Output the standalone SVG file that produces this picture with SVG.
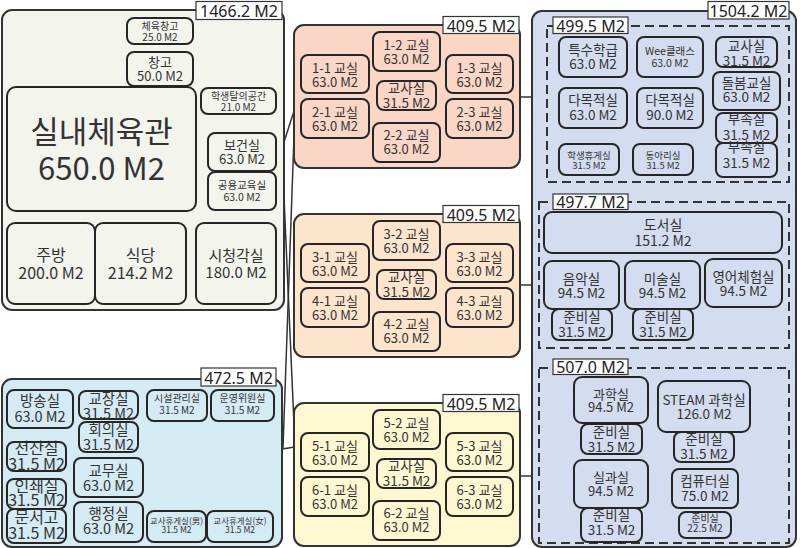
<svg xmlns="http://www.w3.org/2000/svg" width="800" height="548" viewBox="0 0 800 548">
<style>
text{font-family:"Noto Sans CJK KR","Noto Sans",sans-serif;fill:#333;text-anchor:middle}
.grp{stroke:#333;stroke-width:2}
.n{stroke:#262626;stroke-width:2}
.lb{fill:#fff;stroke:#333;stroke-width:1.2}
.lt{font-family:"Noto Sans","DejaVu Sans",sans-serif;font-size:16px;fill:#222}
.d{fill:none;stroke:#333;stroke-width:2;stroke-dasharray:9 5}
.gA{fill:#f3f5ed}.gB{fill:#d5ebf4}.gR{fill:#fad6c6}.gO{fill:#fde4cd}.gY{fill:#fdf7d2}.gU{fill:#d4dcf0}
.c{fill:none;stroke:#333;stroke-width:1.5}
</style>
<g id="connectors">
<path class="c" d="M284 142L295 108"/>
<path class="c" d="M284 197L295 447"/>
<path class="c" d="M283 448L295 108"/>
<path class="c" d="M282 449L295 447"/>
<path class="c" d="M520 97H532"/>
<path class="c" d="M520 285H532"/>
<path class="c" d="M520 476H532"/>
</g>
<g id="grp-1466">
<rect class="grp gA" x="2" y="10" width="282" height="300" rx="10"/>
<rect class="lb" x="196" y="1.5" width="86" height="18"/>
<text class="lt" x="239" y="17.2">1466.2 M2</text>
<g id="n-gym-store"><rect class="n gA" x="127" y="18" width="66" height="26" rx="7"/><text font-size="10"><tspan x="160" y="29.5">체육창고</tspan><tspan x="160" y="40.5">25.0 M2</tspan></text></g>
<g id="n-store"><rect class="n gA" x="127" y="52" width="66" height="34" rx="7"/><text font-size="13"><tspan x="160" y="67">창고</tspan><tspan x="160" y="81">50.0 M2</tspan></text></g>
<g id="n-gym"><rect class="n gA" x="7" y="87" width="189" height="124" rx="9"/><text font-size="31"><tspan x="101.5" y="143">실내체육관</tspan><tspan x="101.5" y="180">650.0 M2</tspan></text></g>
<g id="n-dress"><rect class="n gA" x="201" y="88" width="75" height="26" rx="7"/><text font-size="10"><tspan x="238.5" y="99.5">학생탈의공간</tspan><tspan x="238.5" y="110.5">21.0 M2</tspan></text></g>
<g id="n-health"><rect class="n gA" x="208" y="133" width="68" height="38" rx="7"/><text font-size="13"><tspan x="242" y="150">보건실</tspan><tspan x="242" y="164">63.0 M2</tspan></text></g>
<g id="n-common"><rect class="n gA" x="208" y="172" width="68" height="38" rx="7"/><text font-size="10.5"><tspan x="242" y="189">공용교육실</tspan><tspan x="242" y="200.5">63.0 M2</tspan></text></g>
<g id="n-kitchen"><rect class="n gA" x="7" y="223" width="88" height="81" rx="8"/><text font-size="16"><tspan x="51" y="261">주방</tspan><tspan x="51" y="279">200.0 M2</tspan></text></g>
<g id="n-cafeteria"><rect class="n gA" x="95" y="223" width="91" height="81" rx="8"/><text font-size="16"><tspan x="140.5" y="261">식당</tspan><tspan x="140.5" y="279">214.2 M2</tspan></text></g>
<g id="n-av"><rect class="n gA" x="196" y="223" width="80" height="81" rx="8"/><text font-size="15"><tspan x="236" y="261">시청각실</tspan><tspan x="236" y="278">180.0 M2</tspan></text></g>
</g>
<g id="grp-472">
<rect class="grp gB" x="2" y="379" width="280" height="168" rx="10"/>
<rect class="lb" x="201" y="368" width="75" height="18"/>
<text class="lt" x="238.5" y="383.5">472.5 M2</text>
<g id="n-broadcast"><rect class="n gB" x="7" y="390" width="66" height="38" rx="7"/><text font-size="14.5"><tspan x="40" y="405.5">방송실</tspan><tspan x="40" y="421.5">63.0 M2</tspan></text></g>
<g id="n-principal"><rect class="n gB" x="79" y="391" width="59" height="28" rx="7"/><text font-size="14.5"><tspan x="108.5" y="403.5">교장실</tspan><tspan x="108.5" y="418.5">31.5 M2</tspan></text></g>
<g id="n-meeting"><rect class="n gB" x="79" y="422" width="59" height="30" rx="7"/><text font-size="14.5"><tspan x="108.5" y="435">회의실</tspan><tspan x="108.5" y="450">31.5 M2</tspan></text></g>
<g id="n-computer-admin"><rect class="n gB" x="7" y="442" width="59" height="29" rx="7"/><text font-size="16"><tspan x="36.5" y="454">전산실</tspan><tspan x="36.5" y="469.5">31.5 M2</tspan></text></g>
<g id="n-print"><rect class="n gB" x="7" y="479" width="59" height="30" rx="7"/><text font-size="16"><tspan x="36.5" y="491.5">인쇄실</tspan><tspan x="36.5" y="506">31.5 M2</tspan></text></g>
<g id="n-archive"><rect class="n gB" x="7" y="509" width="59" height="34" rx="7"/><text font-size="16"><tspan x="36.5" y="523">문서고</tspan><tspan x="36.5" y="538.5">31.5 M2</tspan></text></g>
<g id="n-staff"><rect class="n gB" x="74" y="458" width="69" height="39" rx="7"/><text font-size="14.5"><tspan x="108.5" y="476">교무실</tspan><tspan x="108.5" y="490.5">63.0 M2</tspan></text></g>
<g id="n-admin"><rect class="n gB" x="74" y="502" width="69" height="40" rx="7"/><text font-size="14.5"><tspan x="108.5" y="519">행정실</tspan><tspan x="108.5" y="533.5">63.0 M2</tspan></text></g>
<g id="n-facility"><rect class="n gB" x="147" y="390" width="60" height="31" rx="7"/><text font-size="10"><tspan x="177" y="402">시설관리실</tspan><tspan x="177" y="413.5">31.5 M2</tspan></text></g>
<g id="n-committee"><rect class="n gB" x="211" y="390" width="63" height="31" rx="7"/><text font-size="10"><tspan x="242.5" y="402">운영위원실</tspan><tspan x="242.5" y="413.5">31.5 M2</tspan></text></g>
<g id="n-lounge-m"><rect class="n gB" x="147" y="511" width="59" height="31" rx="7"/><text font-size="8.5"><tspan x="176.5" y="523.5">교사휴게실(男)</tspan><tspan x="176.5" y="533">31.5 M2</tspan></text></g>
<g id="n-lounge-f"><rect class="n gB" x="207" y="511" width="66" height="31" rx="7"/><text font-size="8.5"><tspan x="240" y="523.5">교사휴게실(女)</tspan><tspan x="240" y="533">31.5 M2</tspan></text></g>
</g>
<g id="grp-409-a">
<rect class="grp gR" x="294" y="25" width="226" height="143" rx="10"/>
<rect class="lb" x="443" y="16.5" width="76" height="17"/>
<text class="lt" x="481" y="31.5">409.5 M2</text>
<g id="n-1-1"><rect class="n gR" x="301" y="55" width="68" height="38" rx="7"/><text font-size="13"><tspan x="335" y="73">1-1 교실</tspan><tspan x="335" y="87">63.0 M2</tspan></text></g>
<g id="n-2-1"><rect class="n gR" x="301" y="99" width="68" height="39" rx="7"/><text font-size="13"><tspan x="335" y="117">2-1 교실</tspan><tspan x="335" y="131">63.0 M2</tspan></text></g>
<g id="n-1-2"><rect class="n gR" x="373" y="32" width="67" height="39" rx="7"/><text font-size="13"><tspan x="406.5" y="50">1-2 교실</tspan><tspan x="406.5" y="64">63.0 M2</tspan></text></g>
<g id="n-t12"><rect class="n gR" x="377" y="81" width="59" height="29" rx="7"/><text font-size="13.5"><tspan x="406.5" y="93">교사실</tspan><tspan x="406.5" y="108">31.5 M2</tspan></text></g>
<g id="n-2-2"><rect class="n gR" x="373" y="123" width="67" height="39" rx="7"/><text font-size="13"><tspan x="406.5" y="140">2-2 교실</tspan><tspan x="406.5" y="154">63.0 M2</tspan></text></g>
<g id="n-1-3"><rect class="n gR" x="446" y="55" width="67" height="38" rx="7"/><text font-size="13"><tspan x="479.5" y="73">1-3 교실</tspan><tspan x="479.5" y="87">63.0 M2</tspan></text></g>
<g id="n-2-3"><rect class="n gR" x="446" y="99" width="67" height="39" rx="7"/><text font-size="13"><tspan x="479.5" y="117">2-3 교실</tspan><tspan x="479.5" y="131">63.0 M2</tspan></text></g>
</g>
<g id="grp-409-b">
<rect class="grp gO" x="294" y="214" width="226" height="143" rx="10"/>
<rect class="lb" x="443" y="205.5" width="76" height="17"/>
<text class="lt" x="481" y="220.5">409.5 M2</text>
<g id="n-3-1"><rect class="n gO" x="301" y="244" width="68" height="38" rx="7"/><text font-size="13"><tspan x="335" y="262">3-1 교실</tspan><tspan x="335" y="276">63.0 M2</tspan></text></g>
<g id="n-4-1"><rect class="n gO" x="301" y="288" width="68" height="39" rx="7"/><text font-size="13"><tspan x="335" y="306">4-1 교실</tspan><tspan x="335" y="320">63.0 M2</tspan></text></g>
<g id="n-3-2"><rect class="n gO" x="373" y="221" width="67" height="39" rx="7"/><text font-size="13"><tspan x="406.5" y="239">3-2 교실</tspan><tspan x="406.5" y="253">63.0 M2</tspan></text></g>
<g id="n-t34"><rect class="n gO" x="377" y="270" width="59" height="29" rx="7"/><text font-size="13.5"><tspan x="406.5" y="282">교사실</tspan><tspan x="406.5" y="297">31.5 M2</tspan></text></g>
<g id="n-4-2"><rect class="n gO" x="373" y="312" width="67" height="39" rx="7"/><text font-size="13"><tspan x="406.5" y="329">4-2 교실</tspan><tspan x="406.5" y="343">63.0 M2</tspan></text></g>
<g id="n-3-3"><rect class="n gO" x="446" y="244" width="67" height="38" rx="7"/><text font-size="13"><tspan x="479.5" y="262">3-3 교실</tspan><tspan x="479.5" y="276">63.0 M2</tspan></text></g>
<g id="n-4-3"><rect class="n gO" x="446" y="288" width="67" height="39" rx="7"/><text font-size="13"><tspan x="479.5" y="306">4-3 교실</tspan><tspan x="479.5" y="320">63.0 M2</tspan></text></g>
</g>
<g id="grp-409-c">
<rect class="grp gY" x="294" y="403" width="226" height="143" rx="10"/>
<rect class="lb" x="443" y="394.5" width="76" height="17"/>
<text class="lt" x="481" y="409.5">409.5 M2</text>
<g id="n-5-1"><rect class="n gY" x="301" y="433" width="68" height="38" rx="7"/><text font-size="13"><tspan x="335" y="451">5-1 교실</tspan><tspan x="335" y="465">63.0 M2</tspan></text></g>
<g id="n-6-1"><rect class="n gY" x="301" y="477" width="68" height="39" rx="7"/><text font-size="13"><tspan x="335" y="495">6-1 교실</tspan><tspan x="335" y="509">63.0 M2</tspan></text></g>
<g id="n-5-2"><rect class="n gY" x="373" y="410" width="67" height="39" rx="7"/><text font-size="13"><tspan x="406.5" y="428">5-2 교실</tspan><tspan x="406.5" y="442">63.0 M2</tspan></text></g>
<g id="n-t56"><rect class="n gY" x="377" y="459" width="59" height="29" rx="7"/><text font-size="13.5"><tspan x="406.5" y="471">교사실</tspan><tspan x="406.5" y="486">31.5 M2</tspan></text></g>
<g id="n-6-2"><rect class="n gY" x="373" y="501" width="67" height="39" rx="7"/><text font-size="13"><tspan x="406.5" y="518">6-2 교실</tspan><tspan x="406.5" y="532">63.0 M2</tspan></text></g>
<g id="n-5-3"><rect class="n gY" x="446" y="433" width="67" height="38" rx="7"/><text font-size="13"><tspan x="479.5" y="451">5-3 교실</tspan><tspan x="479.5" y="465">63.0 M2</tspan></text></g>
<g id="n-6-3"><rect class="n gY" x="446" y="477" width="67" height="39" rx="7"/><text font-size="13"><tspan x="479.5" y="495">6-3 교실</tspan><tspan x="479.5" y="509">63.0 M2</tspan></text></g>
</g>
<g id="grp-1504">
<rect class="grp gU" x="532" y="11" width="264" height="536" rx="10"/>
<rect class="lb" x="708" y="1.5" width="81" height="17.5"/>
<text class="lt" x="748.5" y="17">1504.2 M2</text>
<g id="sub-499">
<rect class="d" x="547" y="26" width="242" height="156"/>
<rect class="lb" x="553" y="17" width="75" height="16.5"/>
<text class="lt" x="590.5" y="31.5">499.5 M2</text>
<g id="n-special"><rect class="n gU" x="559" y="37" width="68" height="40" rx="7"/><text font-size="13.5"><tspan x="593" y="55">특수학급</tspan><tspan x="593" y="69">63.0 M2</tspan></text></g>
<g id="n-wee"><rect class="n gU" x="637" y="37" width="66" height="40" rx="7"/><text font-size="10.5"><tspan x="670" y="55">Wee클래스</tspan><tspan x="670" y="66.5">63.0 M2</tspan></text></g>
<g id="n-t-r"><rect class="n gU" x="716" y="37" width="61" height="30" rx="7"/><text font-size="13.5"><tspan x="746.5" y="51">교사실</tspan><tspan x="746.5" y="65.5">31.5 M2</tspan></text></g>
<g id="n-care"><rect class="n gU" x="713" y="72" width="67" height="38" rx="7"/><text font-size="13.5"><tspan x="746.5" y="87.5">돌봄교실</tspan><tspan x="746.5" y="102">63.0 M2</tspan></text></g>
<g id="n-multi1"><rect class="n gU" x="559" y="88" width="68" height="40" rx="7"/><text font-size="13.5"><tspan x="593" y="105">다목적실</tspan><tspan x="593" y="120">63.0 M2</tspan></text></g>
<g id="n-multi2"><rect class="n gU" x="637" y="88" width="66" height="40" rx="7"/><text font-size="13.5"><tspan x="670" y="105">다목적실</tspan><tspan x="670" y="120">90.0 M2</tspan></text></g>
<g id="n-annex1"><rect class="n gU" x="716" y="113" width="61" height="30" rx="7"/><text font-size="13.5"><tspan x="746.5" y="124">부속실</tspan><tspan x="746.5" y="139.5">31.5 M2</tspan></text></g>
<g id="n-annex2"><rect class="n gU" x="716" y="143" width="61" height="34" rx="7"/><text font-size="13.5"><tspan x="746.5" y="151.5">부속실</tspan><tspan x="746.5" y="168">31.5 M2</tspan></text></g>
<g id="n-student-lounge"><rect class="n gU" x="559" y="144" width="60" height="31" rx="7"/><text font-size="9.5"><tspan x="589" y="158.5">학생휴게실</tspan><tspan x="589" y="169">31.5 M2</tspan></text></g>
<g id="n-club"><rect class="n gU" x="633" y="144" width="60" height="31" rx="7"/><text font-size="9.5"><tspan x="663" y="158.5">동아리실</tspan><tspan x="663" y="169">31.5 M2</tspan></text></g>
</g>
<g id="sub-497">
<rect class="d" x="539" y="202" width="250" height="146"/>
<rect class="lb" x="553" y="194" width="75" height="15.5"/>
<text class="lt" x="590.5" y="208">497.7 M2</text>
<g id="n-library"><rect class="n gU" x="544" y="212" width="238" height="41" rx="8"/><text font-size="14"><tspan x="663" y="230">도서실</tspan><tspan x="663" y="246">151.2 M2</tspan></text></g>
<g id="n-music"><rect class="n gU" x="544" y="261" width="75" height="48" rx="8"/><text font-size="13.5"><tspan x="581.5" y="283.5">음악실</tspan><tspan x="581.5" y="298">94.5 M2</tspan></text></g>
<g id="n-art"><rect class="n gU" x="625" y="261" width="75" height="48" rx="8"/><text font-size="13.5"><tspan x="662.5" y="283.5">미술실</tspan><tspan x="662.5" y="298">94.5 M2</tspan></text></g>
<g id="n-english"><rect class="n gU" x="705" y="259" width="77" height="48" rx="8"/><text font-size="13.5"><tspan x="743.5" y="281.5">영어체험실</tspan><tspan x="743.5" y="296">94.5 M2</tspan></text></g>
<g id="n-prep-music"><rect class="n gU" x="552" y="309" width="60" height="31" rx="7"/><text font-size="13.5"><tspan x="582" y="322">준비실</tspan><tspan x="582" y="337">31.5 M2</tspan></text></g>
<g id="n-prep-art"><rect class="n gU" x="633" y="309" width="60" height="31" rx="7"/><text font-size="13.5"><tspan x="663" y="322">준비실</tspan><tspan x="663" y="337">31.5 M2</tspan></text></g>
</g>
<g id="sub-507">
<rect class="d" x="539" y="368" width="250" height="175"/>
<rect class="lb" x="553" y="359" width="75" height="15.5"/>
<text class="lt" x="590.5" y="373">507.0 M2</text>
<g id="n-science"><rect class="n gU" x="574" y="377" width="74" height="46" rx="8"/><text font-size="13"><tspan x="611" y="398.5">과학실</tspan><tspan x="611" y="412">94.5 M2</tspan></text></g>
<g id="n-prep-sci"><rect class="n gU" x="581" y="424" width="61" height="30" rx="7"/><text font-size="13.5"><tspan x="611.5" y="437">준비실</tspan><tspan x="611.5" y="451.5">31.5 M2</tspan></text></g>
<g id="n-practical"><rect class="n gU" x="574" y="460" width="74" height="48" rx="8"/><text font-size="13"><tspan x="611" y="482">실과실</tspan><tspan x="611" y="495.5">94.5 M2</tspan></text></g>
<g id="n-prep-prac"><rect class="n gU" x="581" y="508" width="61" height="34" rx="7"/><text font-size="13.5"><tspan x="611.5" y="520">준비실</tspan><tspan x="611.5" y="534.5">31.5 M2</tspan></text></g>
<g id="n-steam"><rect class="n gU" x="658" y="381" width="92" height="51" rx="8"/><text font-size="13.5"><tspan x="704" y="404.5">STEAM 과학실</tspan><tspan x="704" y="419">126.0 M2</tspan></text></g>
<g id="n-prep-steam"><rect class="n gU" x="674" y="432" width="60" height="30" rx="7"/><text font-size="13.5"><tspan x="704" y="443.5">준비실</tspan><tspan x="704" y="458.5">31.5 M2</tspan></text></g>
<g id="n-computer"><rect class="n gU" x="672" y="469" width="66" height="39" rx="7"/><text font-size="13.5"><tspan x="705" y="485.5">컴퓨터실</tspan><tspan x="705" y="500.5">75.0 M2</tspan></text></g>
<g id="n-prep-comp"><rect class="n gU" x="679" y="512" width="52" height="26" rx="7"/><text font-size="10"><tspan x="705" y="521.5">준비실</tspan><tspan x="705" y="532">22.5 M2</tspan></text></g>
</g>
</g>
</svg>
